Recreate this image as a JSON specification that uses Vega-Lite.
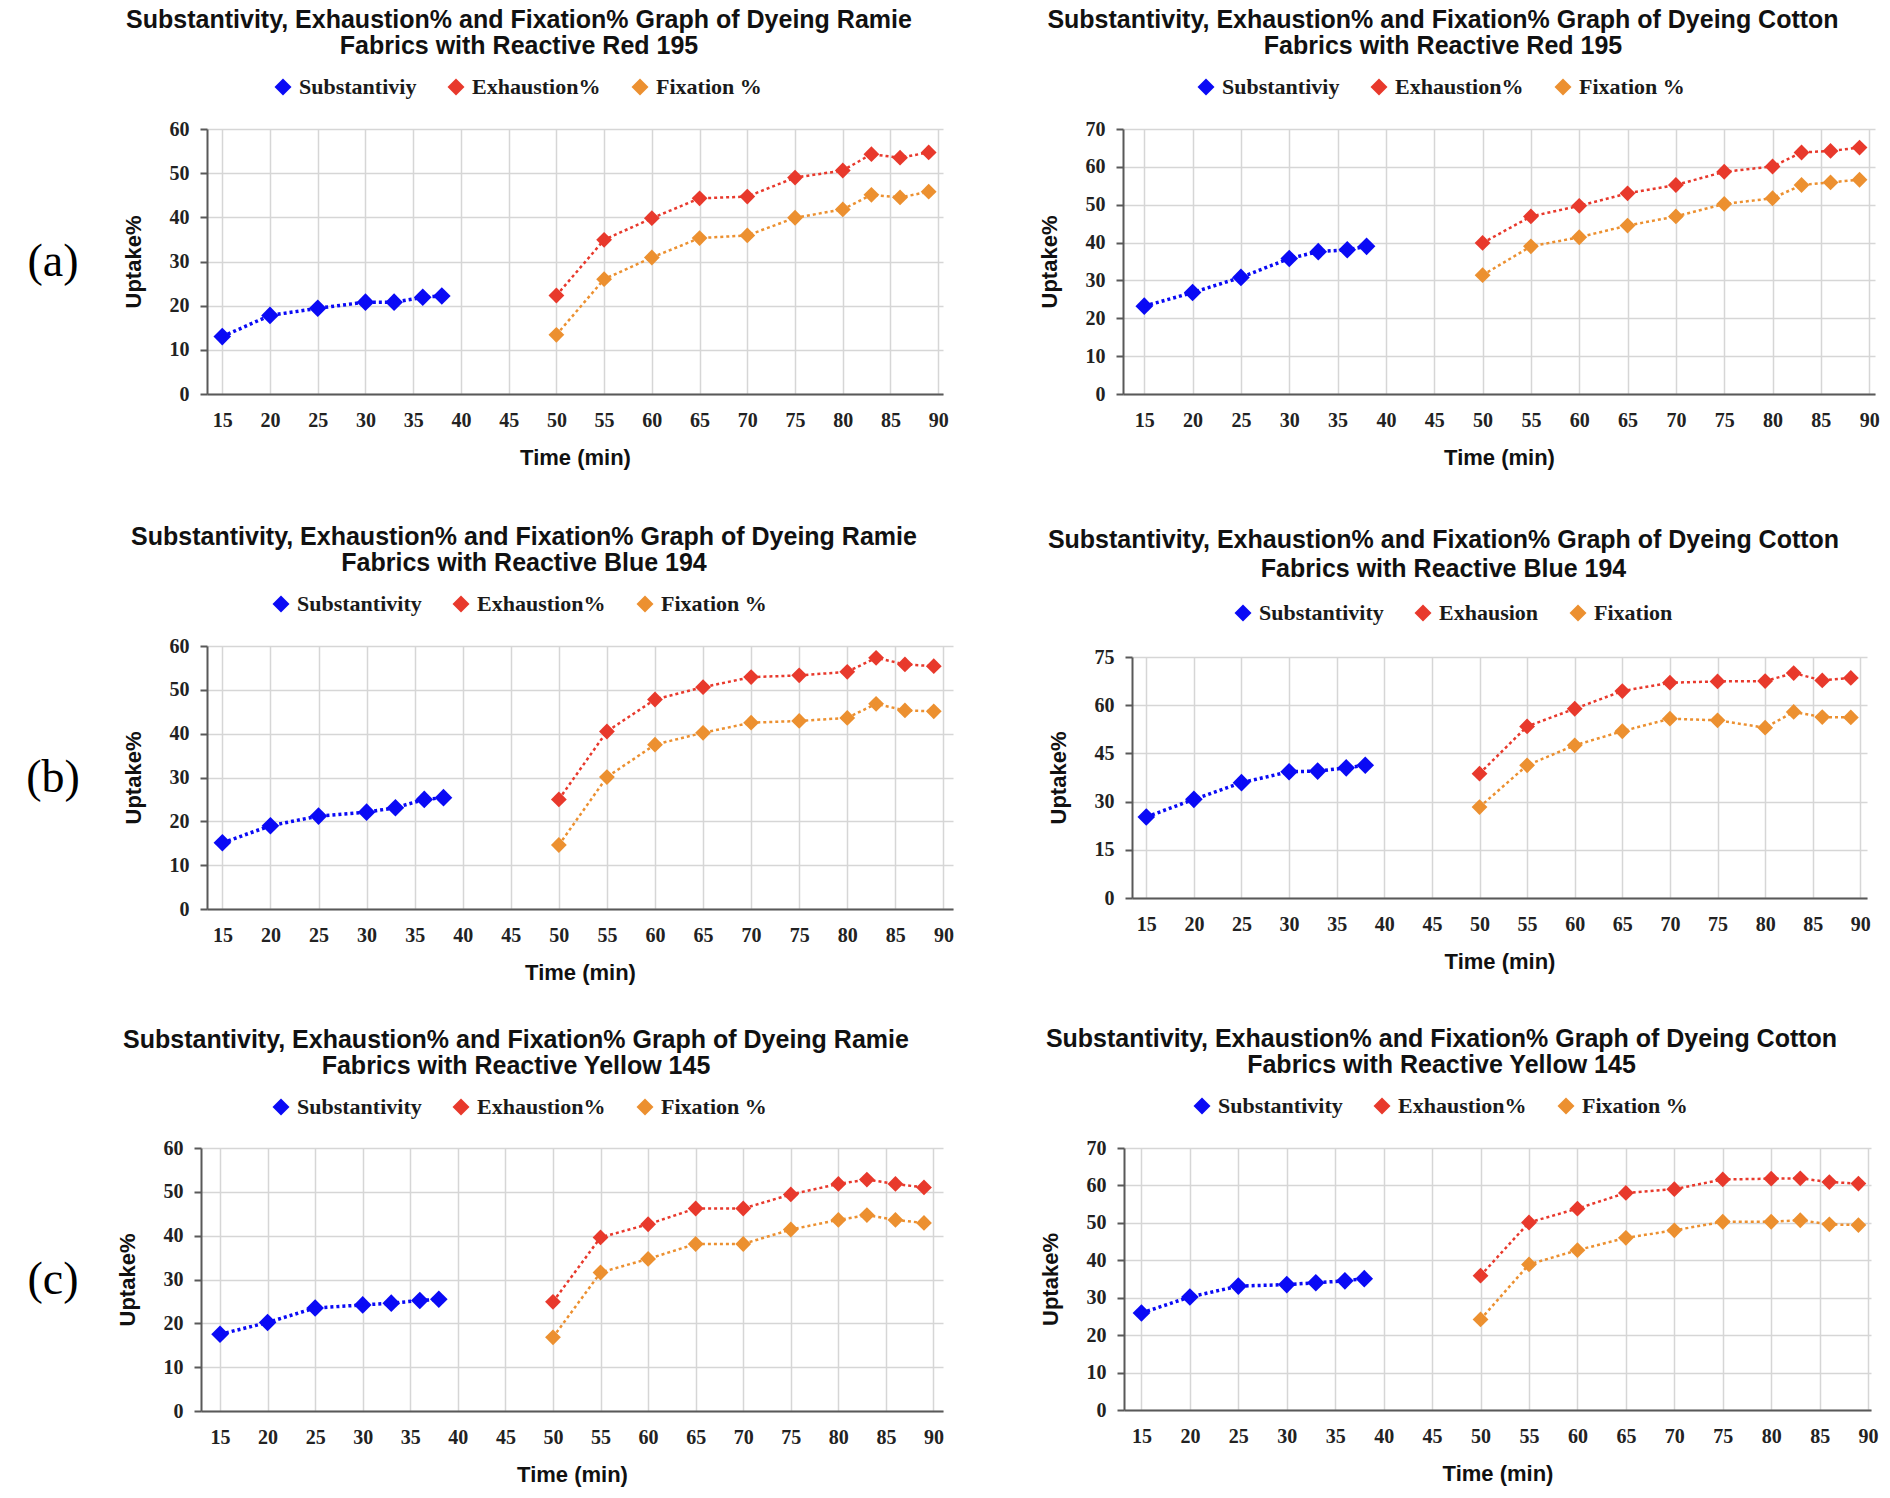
{
  "$schema": "https://vega.github.io/schema/vega-lite/v6.json",
  "background": "white",
  "padding": {"left": 3, "top": 8, "right": 2, "bottom": 5},
  "datasets": {
    "uptake": [
      {"panel": "a1", "series": "Substantiviy", "group": "S", "time": 15, "uptake": 13.0},
      {"panel": "a1", "series": "Substantiviy", "group": "S", "time": 20, "uptake": 17.8},
      {"panel": "a1", "series": "Substantiviy", "group": "S", "time": 25, "uptake": 19.4},
      {"panel": "a1", "series": "Substantiviy", "group": "S", "time": 30, "uptake": 20.8},
      {"panel": "a1", "series": "Substantiviy", "group": "S", "time": 33, "uptake": 20.8},
      {"panel": "a1", "series": "Substantiviy", "group": "S", "time": 36, "uptake": 21.9},
      {"panel": "a1", "series": "Substantiviy", "group": "S", "time": 38, "uptake": 22.2},
      {"panel": "a1", "series": "Exhaustion%", "group": "E", "time": 50, "uptake": 22.3},
      {"panel": "a1", "series": "Exhaustion%", "group": "E", "time": 55, "uptake": 34.9},
      {"panel": "a1", "series": "Exhaustion%", "group": "E", "time": 60, "uptake": 39.8},
      {"panel": "a1", "series": "Exhaustion%", "group": "E", "time": 65, "uptake": 44.3},
      {"panel": "a1", "series": "Exhaustion%", "group": "E", "time": 70, "uptake": 44.7},
      {"panel": "a1", "series": "Exhaustion%", "group": "E", "time": 75, "uptake": 49.0},
      {"panel": "a1", "series": "Exhaustion%", "group": "E", "time": 80, "uptake": 50.6},
      {"panel": "a1", "series": "Exhaustion%", "group": "E", "time": 83, "uptake": 54.3},
      {"panel": "a1", "series": "Exhaustion%", "group": "E", "time": 86, "uptake": 53.5},
      {"panel": "a1", "series": "Exhaustion%", "group": "E", "time": 89, "uptake": 54.7},
      {"panel": "a1", "series": "Fixation %", "group": "F", "time": 50, "uptake": 13.4},
      {"panel": "a1", "series": "Fixation %", "group": "F", "time": 55, "uptake": 26.0},
      {"panel": "a1", "series": "Fixation %", "group": "F", "time": 60, "uptake": 30.9},
      {"panel": "a1", "series": "Fixation %", "group": "F", "time": 65, "uptake": 35.3},
      {"panel": "a1", "series": "Fixation %", "group": "F", "time": 70, "uptake": 35.9},
      {"panel": "a1", "series": "Fixation %", "group": "F", "time": 75, "uptake": 39.9},
      {"panel": "a1", "series": "Fixation %", "group": "F", "time": 80, "uptake": 41.8},
      {"panel": "a1", "series": "Fixation %", "group": "F", "time": 83, "uptake": 45.1},
      {"panel": "a1", "series": "Fixation %", "group": "F", "time": 86, "uptake": 44.5},
      {"panel": "a1", "series": "Fixation %", "group": "F", "time": 89, "uptake": 45.8},

      {"panel": "a2", "series": "Substantiviy", "group": "S", "time": 15, "uptake": 23.2},
      {"panel": "a2", "series": "Substantiviy", "group": "S", "time": 20, "uptake": 26.8},
      {"panel": "a2", "series": "Substantiviy", "group": "S", "time": 25, "uptake": 30.8},
      {"panel": "a2", "series": "Substantiviy", "group": "S", "time": 30, "uptake": 35.8},
      {"panel": "a2", "series": "Substantiviy", "group": "S", "time": 33, "uptake": 37.6},
      {"panel": "a2", "series": "Substantiviy", "group": "S", "time": 36, "uptake": 38.1},
      {"panel": "a2", "series": "Substantiviy", "group": "S", "time": 38, "uptake": 39.0},
      {"panel": "a2", "series": "Exhaustion%", "group": "E", "time": 50, "uptake": 39.9},
      {"panel": "a2", "series": "Exhaustion%", "group": "E", "time": 55, "uptake": 46.9},
      {"panel": "a2", "series": "Exhaustion%", "group": "E", "time": 60, "uptake": 49.7},
      {"panel": "a2", "series": "Exhaustion%", "group": "E", "time": 65, "uptake": 53.0},
      {"panel": "a2", "series": "Exhaustion%", "group": "E", "time": 70, "uptake": 55.2},
      {"panel": "a2", "series": "Exhaustion%", "group": "E", "time": 75, "uptake": 58.7},
      {"panel": "a2", "series": "Exhaustion%", "group": "E", "time": 80, "uptake": 60.1},
      {"panel": "a2", "series": "Exhaustion%", "group": "E", "time": 83, "uptake": 63.8},
      {"panel": "a2", "series": "Exhaustion%", "group": "E", "time": 86, "uptake": 64.2},
      {"panel": "a2", "series": "Exhaustion%", "group": "E", "time": 89, "uptake": 65.1},
      {"panel": "a2", "series": "Fixation %", "group": "F", "time": 50, "uptake": 31.4},
      {"panel": "a2", "series": "Fixation %", "group": "F", "time": 55, "uptake": 39.0},
      {"panel": "a2", "series": "Fixation %", "group": "F", "time": 60, "uptake": 41.4},
      {"panel": "a2", "series": "Fixation %", "group": "F", "time": 65, "uptake": 44.5},
      {"panel": "a2", "series": "Fixation %", "group": "F", "time": 70, "uptake": 46.9},
      {"panel": "a2", "series": "Fixation %", "group": "F", "time": 75, "uptake": 50.2},
      {"panel": "a2", "series": "Fixation %", "group": "F", "time": 80, "uptake": 51.7},
      {"panel": "a2", "series": "Fixation %", "group": "F", "time": 83, "uptake": 55.2},
      {"panel": "a2", "series": "Fixation %", "group": "F", "time": 86, "uptake": 55.9},
      {"panel": "a2", "series": "Fixation %", "group": "F", "time": 89, "uptake": 56.6},

      {"panel": "b1", "series": "Substantivity", "group": "S", "time": 15, "uptake": 15.1},
      {"panel": "b1", "series": "Substantivity", "group": "S", "time": 20, "uptake": 19.0},
      {"panel": "b1", "series": "Substantivity", "group": "S", "time": 25, "uptake": 21.2},
      {"panel": "b1", "series": "Substantivity", "group": "S", "time": 30, "uptake": 22.1},
      {"panel": "b1", "series": "Substantivity", "group": "S", "time": 33, "uptake": 23.1},
      {"panel": "b1", "series": "Substantivity", "group": "S", "time": 36, "uptake": 25.0},
      {"panel": "b1", "series": "Substantivity", "group": "S", "time": 38, "uptake": 25.4},
      {"panel": "b1", "series": "Exhaustion%", "group": "E", "time": 50, "uptake": 25.0},
      {"panel": "b1", "series": "Exhaustion%", "group": "E", "time": 55, "uptake": 40.5},
      {"panel": "b1", "series": "Exhaustion%", "group": "E", "time": 60, "uptake": 47.8},
      {"panel": "b1", "series": "Exhaustion%", "group": "E", "time": 65, "uptake": 50.6},
      {"panel": "b1", "series": "Exhaustion%", "group": "E", "time": 70, "uptake": 52.9},
      {"panel": "b1", "series": "Exhaustion%", "group": "E", "time": 75, "uptake": 53.3},
      {"panel": "b1", "series": "Exhaustion%", "group": "E", "time": 80, "uptake": 54.1},
      {"panel": "b1", "series": "Exhaustion%", "group": "E", "time": 83, "uptake": 57.3},
      {"panel": "b1", "series": "Exhaustion%", "group": "E", "time": 86, "uptake": 55.8},
      {"panel": "b1", "series": "Exhaustion%", "group": "E", "time": 89, "uptake": 55.4},
      {"panel": "b1", "series": "Fixation %", "group": "F", "time": 50, "uptake": 14.6},
      {"panel": "b1", "series": "Fixation %", "group": "F", "time": 55, "uptake": 30.1},
      {"panel": "b1", "series": "Fixation %", "group": "F", "time": 60, "uptake": 37.5},
      {"panel": "b1", "series": "Fixation %", "group": "F", "time": 65, "uptake": 40.2},
      {"panel": "b1", "series": "Fixation %", "group": "F", "time": 70, "uptake": 42.5},
      {"panel": "b1", "series": "Fixation %", "group": "F", "time": 75, "uptake": 42.9},
      {"panel": "b1", "series": "Fixation %", "group": "F", "time": 80, "uptake": 43.6},
      {"panel": "b1", "series": "Fixation %", "group": "F", "time": 83, "uptake": 46.8},
      {"panel": "b1", "series": "Fixation %", "group": "F", "time": 86, "uptake": 45.3},
      {"panel": "b1", "series": "Fixation %", "group": "F", "time": 89, "uptake": 45.1},

      {"panel": "b2", "series": "Substantivity", "group": "S", "time": 15, "uptake": 25.2},
      {"panel": "b2", "series": "Substantivity", "group": "S", "time": 20, "uptake": 30.7},
      {"panel": "b2", "series": "Substantivity", "group": "S", "time": 25, "uptake": 35.9},
      {"panel": "b2", "series": "Substantivity", "group": "S", "time": 30, "uptake": 39.3},
      {"panel": "b2", "series": "Substantivity", "group": "S", "time": 33, "uptake": 39.5},
      {"panel": "b2", "series": "Substantivity", "group": "S", "time": 36, "uptake": 40.5},
      {"panel": "b2", "series": "Substantivity", "group": "S", "time": 38, "uptake": 41.3},
      {"panel": "b2", "series": "Exhausion", "group": "E", "time": 50, "uptake": 38.7},
      {"panel": "b2", "series": "Exhausion", "group": "E", "time": 55, "uptake": 53.4},
      {"panel": "b2", "series": "Exhausion", "group": "E", "time": 60, "uptake": 58.9},
      {"panel": "b2", "series": "Exhausion", "group": "E", "time": 65, "uptake": 64.4},
      {"panel": "b2", "series": "Exhausion", "group": "E", "time": 70, "uptake": 67.0},
      {"panel": "b2", "series": "Exhausion", "group": "E", "time": 75, "uptake": 67.4},
      {"panel": "b2", "series": "Exhausion", "group": "E", "time": 80, "uptake": 67.5},
      {"panel": "b2", "series": "Exhausion", "group": "E", "time": 83, "uptake": 70.0},
      {"panel": "b2", "series": "Exhausion", "group": "E", "time": 86, "uptake": 67.7},
      {"panel": "b2", "series": "Exhausion", "group": "E", "time": 89, "uptake": 68.5},
      {"panel": "b2", "series": "Fixation", "group": "F", "time": 50, "uptake": 28.3},
      {"panel": "b2", "series": "Fixation", "group": "F", "time": 55, "uptake": 41.3},
      {"panel": "b2", "series": "Fixation", "group": "F", "time": 60, "uptake": 47.5},
      {"panel": "b2", "series": "Fixation", "group": "F", "time": 65, "uptake": 51.9},
      {"panel": "b2", "series": "Fixation", "group": "F", "time": 70, "uptake": 55.8},
      {"panel": "b2", "series": "Fixation", "group": "F", "time": 75, "uptake": 55.3},
      {"panel": "b2", "series": "Fixation", "group": "F", "time": 80, "uptake": 53.0},
      {"panel": "b2", "series": "Fixation", "group": "F", "time": 83, "uptake": 57.9},
      {"panel": "b2", "series": "Fixation", "group": "F", "time": 86, "uptake": 56.3},
      {"panel": "b2", "series": "Fixation", "group": "F", "time": 89, "uptake": 56.2},

      {"panel": "c1", "series": "Substantivity", "group": "S", "time": 15, "uptake": 17.5},
      {"panel": "c1", "series": "Substantivity", "group": "S", "time": 20, "uptake": 20.2},
      {"panel": "c1", "series": "Substantivity", "group": "S", "time": 25, "uptake": 23.5},
      {"panel": "c1", "series": "Substantivity", "group": "S", "time": 30, "uptake": 24.2},
      {"panel": "c1", "series": "Substantivity", "group": "S", "time": 33, "uptake": 24.6},
      {"panel": "c1", "series": "Substantivity", "group": "S", "time": 36, "uptake": 25.2},
      {"panel": "c1", "series": "Substantivity", "group": "S", "time": 38, "uptake": 25.5},
      {"panel": "c1", "series": "Exhaustion%", "group": "E", "time": 50, "uptake": 24.9},
      {"panel": "c1", "series": "Exhaustion%", "group": "E", "time": 55, "uptake": 39.6},
      {"panel": "c1", "series": "Exhaustion%", "group": "E", "time": 60, "uptake": 42.6},
      {"panel": "c1", "series": "Exhaustion%", "group": "E", "time": 65, "uptake": 46.2},
      {"panel": "c1", "series": "Exhaustion%", "group": "E", "time": 70, "uptake": 46.2},
      {"panel": "c1", "series": "Exhaustion%", "group": "E", "time": 75, "uptake": 49.4},
      {"panel": "c1", "series": "Exhaustion%", "group": "E", "time": 80, "uptake": 51.8},
      {"panel": "c1", "series": "Exhaustion%", "group": "E", "time": 83, "uptake": 52.8},
      {"panel": "c1", "series": "Exhaustion%", "group": "E", "time": 86, "uptake": 51.8},
      {"panel": "c1", "series": "Exhaustion%", "group": "E", "time": 89, "uptake": 51.0},
      {"panel": "c1", "series": "Fixation %", "group": "F", "time": 50, "uptake": 16.8},
      {"panel": "c1", "series": "Fixation %", "group": "F", "time": 55, "uptake": 31.6},
      {"panel": "c1", "series": "Fixation %", "group": "F", "time": 60, "uptake": 34.7},
      {"panel": "c1", "series": "Fixation %", "group": "F", "time": 65, "uptake": 38.1},
      {"panel": "c1", "series": "Fixation %", "group": "F", "time": 70, "uptake": 38.1},
      {"panel": "c1", "series": "Fixation %", "group": "F", "time": 75, "uptake": 41.4},
      {"panel": "c1", "series": "Fixation %", "group": "F", "time": 80, "uptake": 43.6},
      {"panel": "c1", "series": "Fixation %", "group": "F", "time": 83, "uptake": 44.7},
      {"panel": "c1", "series": "Fixation %", "group": "F", "time": 86, "uptake": 43.6},
      {"panel": "c1", "series": "Fixation %", "group": "F", "time": 89, "uptake": 42.9},

      {"panel": "c2", "series": "Substantivity", "group": "S", "time": 15, "uptake": 25.9},
      {"panel": "c2", "series": "Substantivity", "group": "S", "time": 20, "uptake": 30.2},
      {"panel": "c2", "series": "Substantivity", "group": "S", "time": 25, "uptake": 33.1},
      {"panel": "c2", "series": "Substantivity", "group": "S", "time": 30, "uptake": 33.5},
      {"panel": "c2", "series": "Substantivity", "group": "S", "time": 33, "uptake": 34.0},
      {"panel": "c2", "series": "Substantivity", "group": "S", "time": 36, "uptake": 34.5},
      {"panel": "c2", "series": "Substantivity", "group": "S", "time": 38, "uptake": 35.1},
      {"panel": "c2", "series": "Exhaustion%", "group": "E", "time": 50, "uptake": 35.9},
      {"panel": "c2", "series": "Exhaustion%", "group": "E", "time": 55, "uptake": 50.1},
      {"panel": "c2", "series": "Exhaustion%", "group": "E", "time": 60, "uptake": 53.8},
      {"panel": "c2", "series": "Exhaustion%", "group": "E", "time": 65, "uptake": 58.0},
      {"panel": "c2", "series": "Exhaustion%", "group": "E", "time": 70, "uptake": 59.0},
      {"panel": "c2", "series": "Exhaustion%", "group": "E", "time": 75, "uptake": 61.6},
      {"panel": "c2", "series": "Exhaustion%", "group": "E", "time": 80, "uptake": 61.8},
      {"panel": "c2", "series": "Exhaustion%", "group": "E", "time": 83, "uptake": 61.9},
      {"panel": "c2", "series": "Exhaustion%", "group": "E", "time": 86, "uptake": 60.9},
      {"panel": "c2", "series": "Exhaustion%", "group": "E", "time": 89, "uptake": 60.5},
      {"panel": "c2", "series": "Fixation %", "group": "F", "time": 50, "uptake": 24.2},
      {"panel": "c2", "series": "Fixation %", "group": "F", "time": 55, "uptake": 38.9},
      {"panel": "c2", "series": "Fixation %", "group": "F", "time": 60, "uptake": 42.7},
      {"panel": "c2", "series": "Fixation %", "group": "F", "time": 65, "uptake": 46.0},
      {"panel": "c2", "series": "Fixation %", "group": "F", "time": 70, "uptake": 48.0},
      {"panel": "c2", "series": "Fixation %", "group": "F", "time": 75, "uptake": 50.3},
      {"panel": "c2", "series": "Fixation %", "group": "F", "time": 80, "uptake": 50.3},
      {"panel": "c2", "series": "Fixation %", "group": "F", "time": 83, "uptake": 50.7},
      {"panel": "c2", "series": "Fixation %", "group": "F", "time": 86, "uptake": 49.6},
      {"panel": "c2", "series": "Fixation %", "group": "F", "time": 89, "uptake": 49.4}
    ],
    "labels": [
      {"row": "a", "label": "(a)"},
      {"row": "b", "label": "(b)"},
      {"row": "c", "label": "(c)"}
    ]
  },
  "vconcat": [
    {
      "hconcat": [
        {
          "width": 100, "height": 265,
          "data": {"name": "labels"},
          "transform": [{"filter": "datum.row === 'a'"}],
          "mark": {"type": "text", "font": "Liberation Serif", "fontSize": 46, "color": "black"},
          "encoding": {"text": {"field": "label"}}
        },
        {
          "hconcat": [
            {
              "width": 736, "height": 265,
              "data": {"name": "uptake"},
              "title": {"text": ["Substantivity, Exhaustion% and Fixation% Graph of Dyeing Ramie", "Fabrics with Reactive Red 195"]},
              "transform": [{"filter": "datum.panel === 'a1'"}],
              "encoding": {
                "x": {"field": "time", "type": "quantitative", "title": "Time (min)", "scale": {"domain": [13.4, 90.5], "nice": false, "zero": false}, "axis": {"values": [15, 20, 25, 30, 35, 40, 45, 50, 55, 60, 65, 70, 75, 80, 85, 90]}},
                "y": {"field": "uptake", "type": "quantitative", "title": "Uptake%", "scale": {"domain": [0, 60], "nice": false}, "axis": {"values": [0, 10, 20, 30, 40, 50, 60]}},
                "color": {"field": "series", "type": "nominal", "scale": {"domain": ["Substantiviy", "Exhaustion%", "Fixation %"], "range": ["#0a0af5", "#e8392c", "#ec9030"]}, "legend": {"title": null, "orient": "none", "legendX": 65, "legendY": -53}}
              },
              "layer": [
                {"mark": {"type": "point", "shape": "diamond", "filled": true, "opacity": 1}, "encoding": {"size": {"condition": {"test": "datum.group === 'S'", "value": 310}, "value": 250}}},
                {"mark": {"type": "line", "strokeDash": [3, 3]}, "encoding": {"strokeWidth": {"condition": {"test": "datum.group === 'S'", "value": 3.5}, "value": 2.5}}}
              ]
            },
            {
              "width": 752, "height": 265,
              "data": {"name": "uptake"},
              "title": {"text": ["Substantivity, Exhaustion% and Fixation% Graph of Dyeing Cotton", "Fabrics with Reactive Red 195"]},
              "transform": [{"filter": "datum.panel === 'a2'"}],
              "encoding": {
                "x": {"field": "time", "type": "quantitative", "title": "Time (min)", "scale": {"domain": [12.8, 90.6], "nice": false, "zero": false}, "axis": {"values": [15, 20, 25, 30, 35, 40, 45, 50, 55, 60, 65, 70, 75, 80, 85, 90]}},
                "y": {"field": "uptake", "type": "quantitative", "title": "Uptake%", "scale": {"domain": [0, 70], "nice": false}, "axis": {"values": [0, 10, 20, 30, 40, 50, 60, 70]}},
                "color": {"field": "series", "type": "nominal", "scale": {"domain": ["Substantiviy", "Exhaustion%", "Fixation %"], "range": ["#0a0af5", "#e8392c", "#ec9030"]}, "legend": {"title": null, "orient": "none", "legendX": 72, "legendY": -53}}
              },
              "layer": [
                {"mark": {"type": "point", "shape": "diamond", "filled": true, "opacity": 1}, "encoding": {"size": {"condition": {"test": "datum.group === 'S'", "value": 310}, "value": 250}}},
                {"mark": {"type": "line", "strokeDash": [3, 3]}, "encoding": {"strokeWidth": {"condition": {"test": "datum.group === 'S'", "value": 3.5}, "value": 2.5}}}
              ]
            }
          ],
          "spacing": 180,
          "bounds": "flush",
          "resolve": {"scale": {"color": "independent", "x": "independent", "y": "independent"}, "legend": {"color": "independent"}}
        }
      ],
      "spacing": 104,
      "bounds": "flush"
    },
    {
      "vconcat": [
        {
          "hconcat": [
            {
              "width": 100, "height": 263,
              "data": {"name": "labels"},
              "transform": [{"filter": "datum.row === 'b'"}],
              "mark": {"type": "text", "font": "Liberation Serif", "fontSize": 46, "color": "black"},
              "encoding": {"text": {"field": "label"}}
            },
            {
              "hconcat": [
                {
                  "width": 746, "height": 263,
                  "data": {"name": "uptake"},
                  "title": {"text": ["Substantivity, Exhaustion% and Fixation% Graph of Dyeing Ramie", "Fabrics with Reactive Blue 194"]},
                  "transform": [{"filter": "datum.panel === 'b1'"}],
                  "encoding": {
                    "x": {"field": "time", "type": "quantitative", "title": "Time (min)", "scale": {"domain": [13.4, 91.0], "nice": false, "zero": false}, "axis": {"values": [15, 20, 25, 30, 35, 40, 45, 50, 55, 60, 65, 70, 75, 80, 85, 90]}},
                    "y": {"field": "uptake", "type": "quantitative", "title": "Uptake%", "scale": {"domain": [0, 60], "nice": false}, "axis": {"values": [0, 10, 20, 30, 40, 50, 60]}},
                    "color": {"field": "series", "type": "nominal", "scale": {"domain": ["Substantivity", "Exhaustion%", "Fixation %"], "range": ["#0a0af5", "#e8392c", "#ec9030"]}, "legend": {"title": null, "orient": "none", "legendX": 63, "legendY": -53}}
                  },
                  "layer": [
                    {"mark": {"type": "point", "shape": "diamond", "filled": true, "opacity": 1}, "encoding": {"size": {"condition": {"test": "datum.group === 'S'", "value": 310}, "value": 250}}},
                    {"mark": {"type": "line", "strokeDash": [3, 3]}, "encoding": {"strokeWidth": {"condition": {"test": "datum.group === 'S'", "value": 3.5}, "value": 2.5}}}
                  ]
                },
                {
                  "width": 735, "height": 241,
                  "data": {"name": "uptake"},
                  "title": {"text": ["Substantivity, Exhaustion% and Fixation% Graph of Dyeing Cotton", "Fabrics with Reactive Blue 194"], "offset": 20, "lineHeight": 29},
                  "transform": [{"filter": "datum.panel === 'b2'"}],
                  "encoding": {
                    "x": {"field": "time", "type": "quantitative", "title": "Time (min)", "scale": {"domain": [13.5, 90.7], "nice": false, "zero": false}, "axis": {"values": [15, 20, 25, 30, 35, 40, 45, 50, 55, 60, 65, 70, 75, 80, 85, 90]}},
                    "y": {"field": "uptake", "type": "quantitative", "title": "Uptake%", "scale": {"domain": [0, 75], "nice": false}, "axis": {"values": [0, 15, 30, 45, 60, 75]}},
                    "color": {"field": "series", "type": "nominal", "scale": {"domain": ["Substantivity", "Exhausion", "Fixation"], "range": ["#0a0af5", "#e8392c", "#ec9030"]}, "legend": {"title": null, "orient": "none", "legendX": 100, "legendY": -55}}
                  },
                  "layer": [
                    {"mark": {"type": "point", "shape": "diamond", "filled": true, "opacity": 1}, "encoding": {"size": {"condition": {"test": "datum.group === 'S'", "value": 310}, "value": 250}}},
                    {"mark": {"type": "line", "strokeDash": [3, 3]}, "encoding": {"strokeWidth": {"condition": {"test": "datum.group === 'S'", "value": 3.5}, "value": 2.5}}}
                  ]
                }
              ],
              "spacing": 179,
              "bounds": "flush",
              "center": true,
              "resolve": {"scale": {"color": "independent", "x": "independent", "y": "independent"}, "legend": {"color": "independent"}}
            }
          ],
          "spacing": 104,
          "bounds": "flush"
        },
        {
          "hconcat": [
            {
              "width": 100, "height": 263,
              "data": {"name": "labels"},
              "transform": [{"filter": "datum.row === 'c'"}],
              "mark": {"type": "text", "font": "Liberation Serif", "fontSize": 46, "color": "black"},
              "encoding": {"text": {"field": "label"}}
            },
            {
              "hconcat": [
                {
                  "width": 742, "height": 263,
                  "data": {"name": "uptake"},
                  "title": {"text": ["Substantivity, Exhaustion% and Fixation% Graph of Dyeing Ramie", "Fabrics with Reactive Yellow 145"]},
                  "transform": [{"filter": "datum.panel === 'c1'"}],
                  "encoding": {
                    "x": {"field": "time", "type": "quantitative", "title": "Time (min)", "scale": {"domain": [13.0, 91.0], "nice": false, "zero": false}, "axis": {"values": [15, 20, 25, 30, 35, 40, 45, 50, 55, 60, 65, 70, 75, 80, 85, 90]}},
                    "y": {"field": "uptake", "type": "quantitative", "title": "Uptake%", "scale": {"domain": [0, 60], "nice": false}, "axis": {"values": [0, 10, 20, 30, 40, 50, 60]}},
                    "color": {"field": "series", "type": "nominal", "scale": {"domain": ["Substantivity", "Exhaustion%", "Fixation %"], "range": ["#0a0af5", "#e8392c", "#ec9030"]}, "legend": {"title": null, "orient": "none", "legendX": 69, "legendY": -52}}
                  },
                  "layer": [
                    {"mark": {"type": "point", "shape": "diamond", "filled": true, "opacity": 1}, "encoding": {"size": {"condition": {"test": "datum.group === 'S'", "value": 310}, "value": 250}}},
                    {"mark": {"type": "line", "strokeDash": [3, 3]}, "encoding": {"strokeWidth": {"condition": {"test": "datum.group === 'S'", "value": 3.5}, "value": 2.5}}}
                  ]
                },
                {
                  "width": 747, "height": 262,
                  "data": {"name": "uptake"},
                  "title": {"text": ["Substantivity, Exhaustion% and Fixation% Graph of Dyeing Cotton", "Fabrics with Reactive Yellow 145"]},
                  "transform": [{"filter": "datum.panel === 'c2'"}],
                  "encoding": {
                    "x": {"field": "time", "type": "quantitative", "title": "Time (min)", "scale": {"domain": [13.2, 90.3], "nice": false, "zero": false}, "axis": {"values": [15, 20, 25, 30, 35, 40, 45, 50, 55, 60, 65, 70, 75, 80, 85, 90]}},
                    "y": {"field": "uptake", "type": "quantitative", "title": "Uptake%", "scale": {"domain": [0, 70], "nice": false}, "axis": {"values": [0, 10, 20, 30, 40, 50, 60, 70]}},
                    "color": {"field": "series", "type": "nominal", "scale": {"domain": ["Substantivity", "Exhaustion%", "Fixation %"], "range": ["#0a0af5", "#e8392c", "#ec9030"]}, "legend": {"title": null, "orient": "none", "legendX": 67, "legendY": -53}}
                  },
                  "layer": [
                    {"mark": {"type": "point", "shape": "diamond", "filled": true, "opacity": 1}, "encoding": {"size": {"condition": {"test": "datum.group === 'S'", "value": 310}, "value": 250}}},
                    {"mark": {"type": "line", "strokeDash": [3, 3]}, "encoding": {"strokeWidth": {"condition": {"test": "datum.group === 'S'", "value": 3.5}, "value": 2.5}}}
                  ]
                }
              ],
              "spacing": 181,
              "bounds": "flush",
              "resolve": {"scale": {"color": "independent", "x": "independent", "y": "independent"}, "legend": {"color": "independent"}}
            }
          ],
          "spacing": 98,
          "bounds": "flush"
        }
      ],
      "spacing": 502,
      "bounds": "flush"
    }
  ],
  "spacing": 517,
  "bounds": "flush",
  "resolve": {"scale": {"color": "independent", "x": "independent", "y": "independent"}, "legend": {"color": "independent"}},
  "config": {
    "view": {"stroke": null, "fill": "white"},
    "title": {"font": "Liberation Sans", "fontSize": 25, "fontWeight": "bold", "lineHeight": 26, "color": "#111111", "offset": 17, "anchor": "middle", "dx": -56},
    "legend": {
      "direction": "horizontal",
      "symbolType": "diamond",
      "symbolSize": 290,
      "symbolStrokeWidth": 0,
      "labelFont": "Liberation Serif",
      "labelFontSize": 22,
      "labelFontWeight": "bold",
      "labelColor": "#1a1a1a",
      "labelOffset": 5,
      "columnPadding": 28
    },
    "axis": {
      "labelFont": "Liberation Serif",
      "labelFontSize": 20,
      "labelFontWeight": "bold",
      "labelColor": "#222222",
      "labelFlush": false,
      "titleFont": "Liberation Sans",
      "titleFontSize": 22,
      "titleFontWeight": "bold",
      "titleColor": "#111111",
      "domainColor": "#595959",
      "domainWidth": 2,
      "gridColor": "#d6d6d6",
      "gridWidth": 1.5,
      "tickColor": "#595959",
      "tickWidth": 2
    },
    "axisX": {"ticks": false, "labelPadding": 16, "titlePadding": 17, "labelAngle": 0},
    "axisY": {"tickSize": 7, "labelPadding": 11, "titlePadding": 24}
  }
}
